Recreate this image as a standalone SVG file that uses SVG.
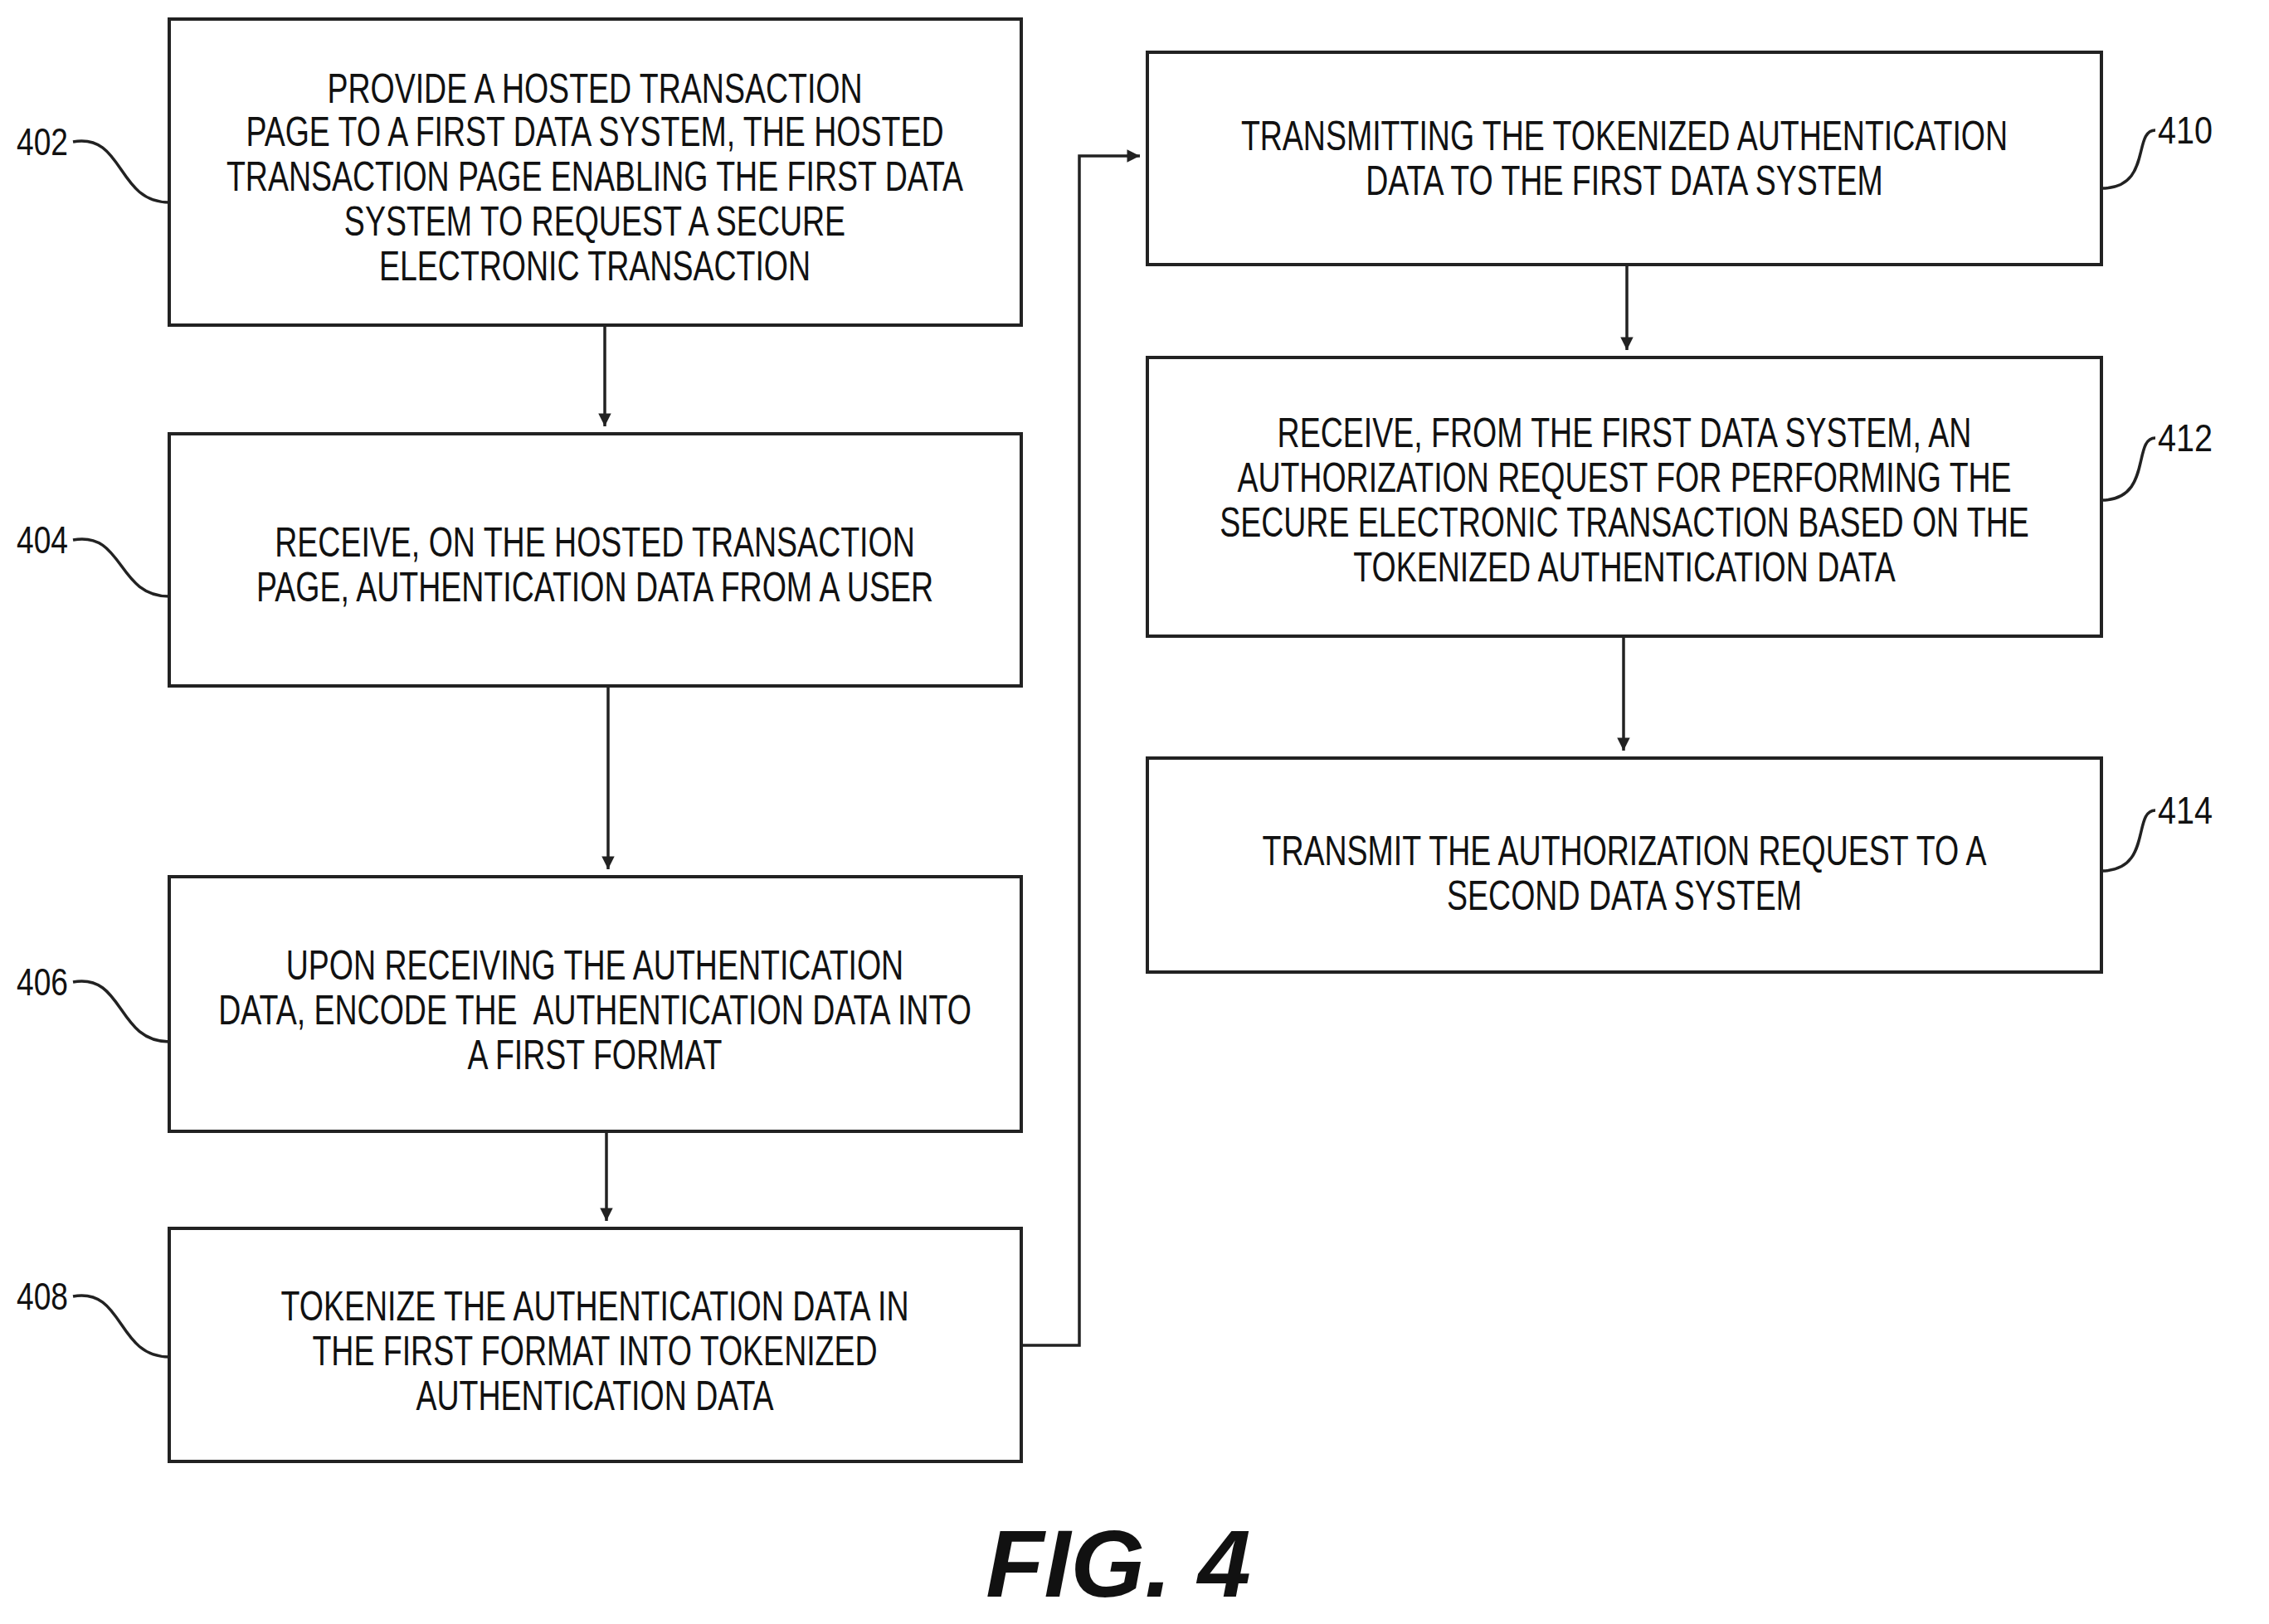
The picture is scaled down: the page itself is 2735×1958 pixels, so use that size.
<svg xmlns="http://www.w3.org/2000/svg" width="2735" height="1958" viewBox="0 0 2735 1958">
<style>
.b{fill:#fff;stroke:#222;stroke-width:4}
.t{font-family:"Liberation Sans",Arial,sans-serif;font-size:50px;fill:#111;text-anchor:middle}
.l{font-family:"Liberation Sans",Arial,sans-serif;font-size:46px;fill:#111}
.c{fill:none;stroke:#222;stroke-width:3.5}
</style>
<defs><marker id="a" viewBox="0 0 10 10" refX="10" refY="5" markerWidth="7" markerHeight="7" markerUnits="userSpaceOnUse" orient="auto" style="overflow:visible"><path d="M0,0L10,5L0,10Z" fill="#222" transform="scale(2.2) translate(-5.5,-2.7)"/></marker></defs>
<rect width="2735" height="1958" fill="#fff"/>
<g id="connectors" class="c">
<path d="M729,392V514" marker-end="url(#a)"/>
<path d="M733,827V1048" marker-end="url(#a)"/>
<path d="M731,1364V1472" marker-end="url(#a)"/>
<path d="M1231,1622H1301V188H1374" marker-end="url(#a)"/>
<path d="M1961,319V422" marker-end="url(#a)"/>
<path d="M1957,767V905" marker-end="url(#a)"/>
</g>
<g id="n402"><rect class="b" x="204" y="23" width="1027" height="369"/>
<g transform="translate(717 0) scale(0.75 1)" class="t"><text x="0" y="124">PROVIDE A HOSTED TRANSACTION</text><text x="0" y="176">PAGE TO A FIRST DATA SYSTEM, THE HOSTED</text><text x="0" y="230">TRANSACTION PAGE ENABLING THE FIRST DATA</text><text x="0" y="284">SYSTEM TO REQUEST A SECURE</text><text x="0" y="338">ELECTRONIC TRANSACTION</text></g>
<text class="l" x="20" y="187" textLength="62" lengthAdjust="spacingAndGlyphs">402</text><path class="c" d="M88,171C150,160 140,244 204,244"/></g>
<g id="n404"><rect class="b" x="204" y="523" width="1027" height="304"/>
<g transform="translate(717 0) scale(0.75 1)" class="t"><text x="0" y="671">RECEIVE, ON THE HOSTED TRANSACTION</text><text x="0" y="725">PAGE, AUTHENTICATION DATA FROM A USER</text></g>
<text class="l" x="20" y="667" textLength="62" lengthAdjust="spacingAndGlyphs">404</text><path class="c" d="M88,651C150,640 140,719 204,719"/></g>
<g id="n406"><rect class="b" x="204" y="1057" width="1027" height="307"/>
<g transform="translate(717 0) scale(0.75 1)" class="t"><text x="0" y="1181">UPON RECEIVING THE AUTHENTICATION</text><text x="0" y="1235" xml:space="preserve">DATA, ENCODE THE  AUTHENTICATION DATA INTO</text><text x="0" y="1289">A FIRST FORMAT</text></g>
<text class="l" x="20" y="1200" textLength="62" lengthAdjust="spacingAndGlyphs">406</text><path class="c" d="M88,1184C150,1173 140,1256 204,1256"/></g>
<g id="n408"><rect class="b" x="204" y="1481" width="1027" height="281"/>
<g transform="translate(717 0) scale(0.75 1)" class="t"><text x="0" y="1592">TOKENIZE THE AUTHENTICATION DATA IN</text><text x="0" y="1646">THE FIRST FORMAT INTO TOKENIZED</text><text x="0" y="1700">AUTHENTICATION DATA</text></g>
<text class="l" x="20" y="1579" textLength="62" lengthAdjust="spacingAndGlyphs">408</text><path class="c" d="M88,1563C150,1552 140,1636 204,1636"/></g>
<g id="n410"><rect class="b" x="1383" y="63" width="1150" height="256"/>
<g transform="translate(1958 0) scale(0.75 1)" class="t"><text x="0" y="181">TRANSMITTING THE TOKENIZED AUTHENTICATION</text><text x="0" y="235">DATA TO THE FIRST DATA SYSTEM</text></g>
<text class="l" x="2601" y="173" textLength="66" lengthAdjust="spacingAndGlyphs">410</text><path class="c" d="M2533,227C2595,227 2570,157 2598,157"/></g>
<g id="n412"><rect class="b" x="1383" y="431" width="1150" height="336"/>
<g transform="translate(1958 0) scale(0.75 1)" class="t"><text x="0" y="539">RECEIVE, FROM THE FIRST DATA SYSTEM, AN</text><text x="0" y="593">AUTHORIZATION REQUEST FOR PERFORMING THE</text><text x="0" y="647">SECURE ELECTRONIC TRANSACTION BASED ON THE</text><text x="0" y="701">TOKENIZED AUTHENTICATION DATA</text></g>
<text class="l" x="2601" y="544" textLength="66" lengthAdjust="spacingAndGlyphs">412</text><path class="c" d="M2533,603C2595,603 2570,528 2598,528"/></g>
<g id="n414"><rect class="b" x="1383" y="914" width="1150" height="258"/>
<g transform="translate(1958 0) scale(0.75 1)" class="t"><text x="0" y="1043">TRANSMIT THE AUTHORIZATION REQUEST TO A</text><text x="0" y="1097">SECOND DATA SYSTEM</text></g>
<text class="l" x="2601" y="993" textLength="66" lengthAdjust="spacingAndGlyphs">414</text><path class="c" d="M2533,1050C2595,1050 2570,977 2598,977"/></g>
<text x="1348" y="1925" style="font-family:'Liberation Sans',Arial,sans-serif;font-size:115px;font-weight:bold;font-style:italic;text-anchor:middle" fill="#111">FIG. 4</text>
</svg>
